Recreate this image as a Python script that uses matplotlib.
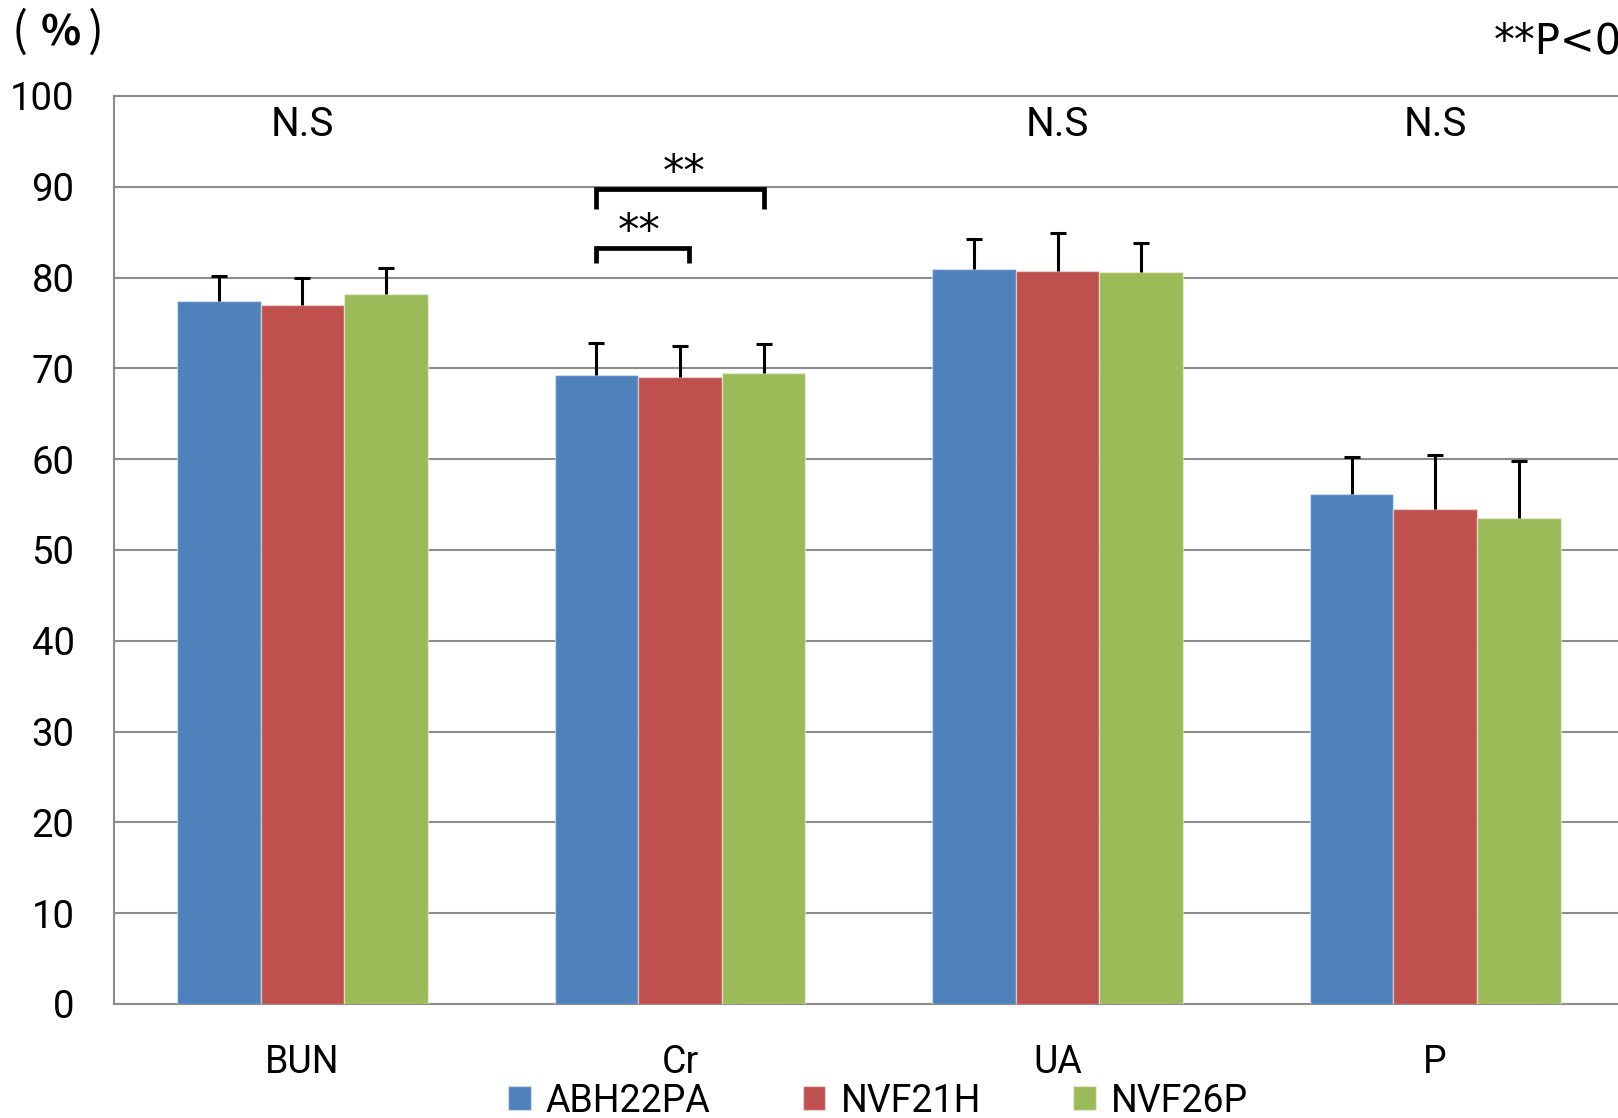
import numpy as np
import matplotlib
matplotlib.use("Agg")
import matplotlib.pyplot as plt
import logging
logging.getLogger('matplotlib.font_manager').setLevel(logging.ERROR)

categories = ["BUN", "Cr", "UA", "P"]
series_names = ["ABH22PA", "NVF21H", "NVF26P"]
abh22pa = [77.4, 69.3, 80.9, 56.2]
nvf21h = [77.0, 69.0, 80.7, 54.5]
nvf26p = [78.2, 69.5, 80.6, 53.5]
abh22pa_err = [2.8, 3.5, 3.4, 4.0]
nvf21h_err = [3.0, 3.5, 4.2, 6.0]
nvf26p_err = [2.9, 3.2, 3.2, 6.3]
ns_labels = ["N.S", "", "N.S", "N.S"]
yticks = list(range(0, 101, 10))

colors = ["#4F81BD", "#C0504D", "#9BBB59"]
FONT = ["Roboto", "DejaVu Sans"]
plt.rcParams['font.family'] = FONT

fig = plt.figure(figsize=(16.18, 11.18), dpi=100)
ax = fig.add_axes([113.5 / 1618, 114 / 1118, (1624 - 113.5) / 1618, (1004 - 96) / 1118])

x = np.arange(len(categories))
w = 0.664 / 3
vals = [abh22pa, nvf21h, nvf26p]
errs = [abh22pa_err, nvf21h_err, nvf26p_err]
for k in range(3):
    pos = x + (k - 1) * w
    ax.bar(pos, vals[k], width=w, color=colors[k], edgecolor=(1, 1, 1, 0.45),
           linewidth=1.0, zorder=3, label=series_names[k])
    dl, caps, bars = ax.errorbar(pos, vals[k], yerr=[np.zeros(len(pos)), errs[k]],
                                 fmt='none', ecolor='black', elinewidth=2.2,
                                 capsize=6, capthick=2.2, zorder=4)
    for c in caps:
        if np.allclose(c.get_ydata(), vals[k]):
            c.set_visible(False)

ax.set_xlim(-0.5, len(categories) - 0.5)
ax.set_ylim(0, 100)
ax.set_yticks(yticks)
ax.set_yticklabels([str(t) for t in yticks])
ax.set_xticks(x)
ax.set_xticklabels(categories)
ax.tick_params(axis='y', length=0, pad=28, labelsize=27.5)
ax.tick_params(axis='x', length=0, pad=29, labelsize=27)
ax.grid(axis='y', color='#8C8C8C', linewidth=1.5, zorder=0)
ax.set_axisbelow(True)
for s in ['left', 'top', 'bottom']:
    ax.spines[s].set_color('#8C8C8C')
    ax.spines[s].set_linewidth(1.5)
ax.spines['right'].set_visible(False)

# N.S labels
for i, t in enumerate(ns_labels):
    if t:
        ax.text(x[i], 96.9, t, ha='center', va='center', fontsize=29)

# significance brackets for Cr
ci = 1
lw = 3.4
xb, xr, xg = ci - w, ci, ci + w
xr2 = xr + 0.024
ax.plot([xb, xb, xr2, xr2], [81.6, 83.3, 83.3, 81.6], color='black', lw=lw,
        solid_joinstyle='miter', solid_capstyle='butt', zorder=5, clip_on=False)
ax.plot([xb, xb, xg, xg], [87.6, 89.8, 89.8, 87.6], color='black', lw=lw,
        solid_joinstyle='miter', solid_capstyle='butt', zorder=5, clip_on=False)
ax.text((xb + xr2) / 2 - 0.01, 85.0, "**", ha='center', va='center', fontsize=31,
        family=['DejaVu Sans'])
ax.text((xb + xg) / 2 + 0.01, 91.5, "**", ha='center', va='center', fontsize=31,
        family=['DejaVu Sans'])

# unit label "（%）" drawn as three pieces to reproduce its wide spacing
cjk = ['Noto Sans CJK JP', 'DejaVu Sans']
fig.text(20 / 1618, 1 - 33 / 1118, "(", ha='center', va='center', fontsize=34, family=cjk)
fig.text(61 / 1618, 1 - 33 / 1118, "%", ha='center', va='center', fontsize=30,
         family=cjk, fontweight='bold')
fig.text(96 / 1618, 1 - 33 / 1118, ")", ha='center', va='center', fontsize=34, family=cjk)
fig.text(1494 / 1618, 1 - 41 / 1118, "**P<0.01", ha='left', va='center', fontsize=30,
         family=['DejaVu Sans'])

fig.legend(loc='center', bbox_to_anchor=(878 / 1618, 1 - 1101 / 1118), ncol=3,
           frameon=False, fontsize=27, handlelength=0.6, handleheight=0.6,
           handletextpad=0.4, columnspacing=2.47, borderaxespad=0)

fig.savefig("out.png", dpi=100)
